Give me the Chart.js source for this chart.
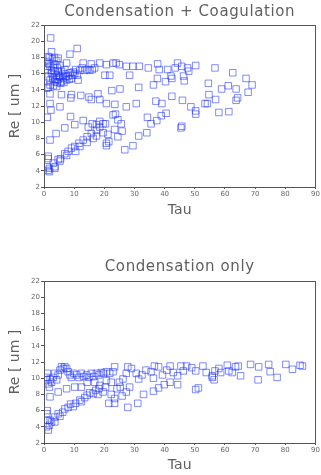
<!DOCTYPE html>
<html>
<head>
<meta charset="utf-8">
<script src="https://cdn.jsdelivr.net/npm/chart.js@4/dist/chart.umd.min.js"></script>
<style>
html,body{margin:0;padding:0;background:#fff;}
canvas{display:block;}
</style>
</head>
<body>
<canvas id="c1" width="321" height="240"></canvas>
<canvas id="c2" width="321" height="235"></canvas>
<script>
const titles = ["Condensation + Coagulation", "Condensation only"];
const xTitle = "Tau";
const yTitle = "Re [ um ]";
const xTicks = [0,10,20,30,40,50,60,70,80,90];
const yTicks = [2,4,6,8,10,12,14,16,18,20,22];

// Condensation + Coagulation
const tauCC = [2.2,2.5,1.4,4.7,8.6,11,7.5,13,15.7,18.5,20.7,22.9,23.9,25,27.3,29.5,31.6,34.6,37.7,38.2,41,44.3,43.5,45.7,47.6,50.3,48,56.7,62.6,67,69,67.7,63.7,61.1,58.9,64.2,63.7,56.9,54.7,54.5,53.4,54.2,58,61.3,50.3,50.3,48.7,45.9,42.4,39.1,37.1,40.5,38.9,37.4,35.5,34.3,34.1,31.4,29.5,26.8,45.7,45.4,30.6,27.3,23.5,20.7,18.5,15.7,14.9,17.9,12.2,8.9,9.1,5.8,2,2,2.3,5.3,1.1,8.8,22.5,25.2,31.4,36.3,40.3,37.6,42.4,46.5,46.3,42.1,28.4,21.8,20.2,
1.4,1.8,1.1,3.6,3.1,4.7,5.5,6.9,8,9.1,10.2,11.6,13,14.3,15.7,17.4,18.5,19.6,1.4,1.4,2,4,6.9,10.2,13,16,14.7,17.4,18.5,20.4,19.6,21.2,20.7,21.5,20.7,22.9,23.7,24.5,25.6,25.9,24.5,23.4,17.4,16.3,14.3,11.9,10.5,7.5,5.3,3.6,1.8,
1.4,2,2.5,3.1,3.6,4.2,4.7,5.3,5.8,6.4,6.9,7.5,8,8.6,9.1,9.7,10.5,11.3,11.9,12.7,13.5,14.3,15.2,16,16.8,2,1.4,3.1,4.2,1.1,2,3.1,3.6,4.4,5.3,1.1,2.5,3.6,4.7,5.8,6.9,2.9,4,5,6.2,7.3,8.4,9.5,10.2,11,4.4,5.5,6.6,1.1,1.8,0.9,2.8,3.5,1.6,4.2];
const reCC = [20.4,18.7,18.1,17.9,18.4,19.1,17.3,17.3,17.2,17.3,17.1,17.3,17.3,17.1,16.9,16.9,16.9,16.7,17.2,16.5,16.5,17.3,16.7,16.9,16.7,17.0,16.3,16.7,16.1,15.4,14.6,13.7,14.1,14.5,14.1,13.0,12.7,12.8,13.4,14.8,12.3,12.3,11.2,11.3,11.4,11.0,11.9,12.7,13.2,12.3,12.6,11.1,10.8,10.2,9.8,10.6,8.7,8.3,7.1,6.6,9.5,9.3,12.3,11.9,12.2,12.3,12.8,12.8,13.1,13.5,13.3,13.0,13.4,13.4,13.5,12.3,11.5,11.9,10.6,10.7,13.9,14.1,14.3,14.6,15.0,15.4,15.4,15.1,15.7,15.7,15.8,15.8,15.8,
4.05,3.9,4.5,4.5,4.95,5.4,5.5,6.1,6.4,6.8,7.0,7.4,7.8,8.2,8.6,9.0,9.4,9.8,5.8,5.5,7.8,8.6,9.3,9.7,10.2,9.8,9.4,9.7,10.1,9.8,8.7,8.5,7.4,7.6,7.1,10.9,11.0,10.3,9.8,8.9,8.2,9.1,8.3,8.0,7.5,7.0,6.4,5.9,5.2,4.3,4.3,
15.6,15.2,16.0,15.6,15.0,15.8,15.3,15.6,15.0,15.4,16.0,15.2,15.7,16.1,15.4,16.2,16.5,15.2,16.4,16.7,16.4,16.5,16.4,16.5,16.7,14.6,14.3,14.5,14.4,16.9,16.9,16.7,17.1,16.7,17.0,16.5,16.4,16.3,16.3,16.3,16.5,15.4,15.3,15.7,15.8,15.6,15.3,15.8,16.0,15.8,14.9,14.8,14.9,17.5,18.0,14.2,17.8,18.0,17.2,17.6];

// Condensation only
const tauCO = [0.9,1.4,2,2.5,3.1,3.6,4.2,4.7,5.3,5.8,6.4,6.9,7.5,8,8.6,9.1,9.9,10.8,11.6,12.4,13.2,14.1,14.9,15.7,16.5,17.4,18.2,19,19.8,20.7,21.8,22.9,23.4,0.7,1.1,1.8,2,4.7,7.5,10.2,12.4,14.3,16.8,18.5,20.7,22.3,
25,26.2,27.3,27.8,29,30.6,31.4,32.5,33.8,35.5,36.6,36.3,38,39.3,40.7,41.8,42.9,44.3,45.4,46.2,47.3,49.0,50.3,52.7,53.8,55.8,56.7,58.0,58.6,60.8,61.3,62.4,63.5,64.4,65.2,68.5,71.2,71,74.5,75,77.3,80.2,82.4,84.9,85.7,56.4,55.8,50.3,51.2,44.3,41.8,39.9,38,36.3,33,31.1,27.8,23.4,21.5,23.4,25.9,25.3,28.4,27.3,24.2,22.3,19.6,17.9,20.4,
0.9,1.4,1.8,1.1,2,2.5,3.6,3.6,4.7,5.3,6.2,6.9,8,8.8,9.7,10.5,11.9,12.4,13.5,14.3,15.2,16.3,17.1,18.2,1.1,0.9];
const reCO = [9.8,9.3,9.9,9.5,10.1,10.6,9.8,10.4,11.0,11.4,11.2,11.4,11.2,10.8,10.4,10.1,10.6,10.4,10.1,10.6,10.2,10.4,10.1,10.6,10.2,10.6,10.4,10.7,10.6,10.8,10.6,10.8,11.4,10.1,10.6,8.9,7.7,8.3,8.7,8.9,8.9,9.5,9.5,9.1,9.7,9.5,
9.5,9.9,10.6,11.4,11.2,10.6,9.9,10.4,11.0,10.8,11.5,10.0,11.4,10.4,11.0,11.5,10.7,10.3,11.5,10.9,11.5,11.3,10.9,11.5,10.7,10.3,10.9,11.2,10.7,11.6,10.9,10.7,11.4,11.5,10.3,11.7,11.4,9.8,11.7,10.8,10.1,11.7,11.1,11.6,11.5,9.8,10.1,8.6,8.8,9.2,9.5,9.2,8.8,8.4,8.0,6.9,6.4,6.9,6.9,7.5,7.8,8.9,8.9,8.3,8.7,8.0,8.3,8.0,8.9,
4.0,3.6,4.2,4.8,4.8,4.6,4.6,5.2,5.6,5.3,5.8,6.2,6.4,6.8,6.5,6.9,7.3,7.1,7.6,7.9,8.2,8.1,8.5,8.7,6.0,5.6];

const axisColor = '#555';
const labelColor = '#666';
const textColor = '#606060';
const markerColor = 'rgba(25,45,255,0.55)';

const frame = {
  id: 'frame',
  afterDraw(chart) {
    const a = chart.chartArea, ctx = chart.ctx;
    ctx.save();
    ctx.strokeStyle = axisColor;
    ctx.lineWidth = 1;
    ctx.strokeRect(Math.round(a.left) + 0.5, Math.round(a.top) + 0.5, Math.round(a.right - a.left), Math.round(a.bottom - a.top));
    const o = chart.options.plugins.plotTitle;
    ctx.fillStyle = textColor;
    ctx.font = '15px "DejaVu Sans"';
    try { ctx.letterSpacing = '0.6px'; } catch (e) {}
    ctx.textAlign = 'center';
    ctx.textBaseline = 'middle';
    ctx.fillText(o.text, (a.left + a.right) / 2, o.y);
    ctx.restore();
  }
};

function makeChart(id, title, xs, ys, cfg) {
  const pts = xs.map((x, i) => ({x: x, y: ys[i]}));
  return new Chart(document.getElementById(id), {
    type: 'scatter',
    data: { datasets: [{
      data: pts,
      pointStyle: 'rect',
      pointRadius: 4.6,
      pointHoverRadius: 4.6,
      borderWidth: 1,
      borderColor: markerColor,
      backgroundColor: 'rgba(0,0,0,0)'
    }]},
    options: {
      responsive: false,
      animation: false,
      devicePixelRatio: 1,
      layout: { padding: { left: 0, right: 4, top: cfg.top, bottom: 0 } },
      plugins: {
        legend: { display: false },
        tooltip: { enabled: false },
        title: { display: false },
        plotTitle: { text: title, y: cfg.titleY }
      },
      scales: {
        x: {
          type: 'linear', min: 0, max: 90,
          afterBuildTicks: s => { s.ticks = xTicks.map(v => ({value: v})); },
          afterFit: s => { s.height = cfg.xHeight; s.paddingLeft = 0; s.paddingRight = 0; },
          grid: { drawOnChartArea: false, drawTicks: true, tickLength: 2, color: axisColor },
          border: { display: true, color: axisColor },
          ticks: { color: labelColor, font: { family: 'DejaVu Sans', size: 7 }, padding: 1, maxRotation: 0 },
          title: { display: true, text: xTitle, color: textColor, font: { family: 'DejaVu Sans', size: 14 }, padding: { top: 0, bottom: cfg.xTitlePad } }
        },
        y: {
          type: 'linear', min: 2, max: 22,
          afterBuildTicks: s => { s.ticks = yTicks.map(v => ({value: v})); },
          afterFit: s => { s.width = 44; s.paddingTop = 0; s.paddingBottom = 0; },
          grid: { drawOnChartArea: false, drawTicks: true, tickLength: 3, color: axisColor },
          border: { display: true, color: axisColor },
          ticks: { color: labelColor, font: { family: 'DejaVu Sans', size: 7 }, padding: 1 },
          title: { display: true, text: yTitle, color: textColor, font: { family: 'DejaVu Sans', size: 14 }, padding: { top: 7, bottom: 0 } }
        }
      }
    },
    plugins: [frame]
  });
}

makeChart('c1', titles[0], tauCC, reCC, { top: 25, titleY: 12, xHeight: 53, xTitlePad: 21 });
makeChart('c2', titles[1], tauCO, reCO, { top: 41, titleY: 27, xHeight: 32, xTitlePad: 1 });
</script>
</body>
</html>
